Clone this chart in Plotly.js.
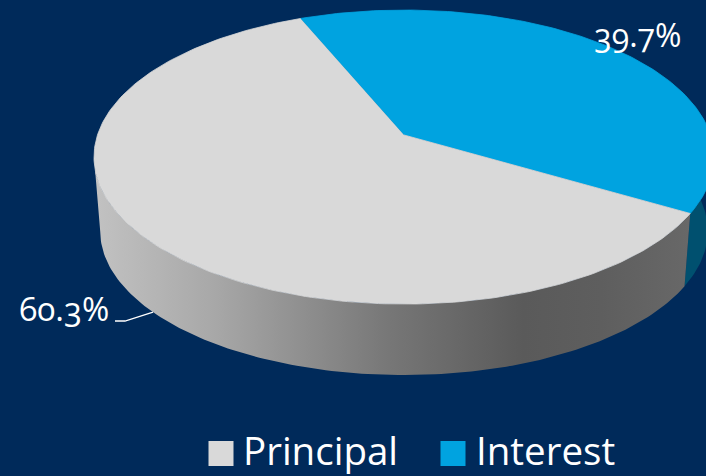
<!DOCTYPE html>
<html>
<head>
<meta charset="utf-8">
<script src="https://cdn.plot.ly/plotly-3.0.1.min.js"></script>
<style>
html, body { margin: 0; padding: 0; background: #002a5a; }
#chart { width: 706px; height: 476px; }
#chart text { font-feature-settings: "onum" 1; font-variant-numeric: oldstyle-nums; }
</style>
</head>
<body>
<div id="chart"></div>
<script>
// Loan payment split
const categories = ["Principal", "Interest"];
const shares = [60.3, 39.7];
const faceColors = ["#d9d9d9", "#00a3e0"];
const shareLabels = ["60.3%", "39.7%"];

// Side wall shading, left to right across the canvas
const wallShadePrincipal = [
  [0, "#c2c2c2"], [0.2, "#a8a8a8"], [0.5, "#767676"], [0.72, "#5a5a5a"], [0.85, "#5e5e5e"], [1, "#686868"]
];

const paper = "#002a5a";
const textFont = "'Open Sans', sans-serif";

// Projection of the tilted disc onto the canvas (pixel units)
const cx = 404, cy = 135, rx = 306.5, ry = 143.7, persp = -0.15;
const depth = 74.4, baseScale = 0.98;
const firstAngle = -22.6; // clockwise from 12 o'clock, start of Interest

function project(deg, r, level) {
  const t = deg * Math.PI / 180;
  const u = r * Math.sin(t), v = -r * Math.cos(t);
  const w = 1 + persp * v;
  const s = level ? baseScale : 1;
  return [cx + s * rx * u / w, cy + (level ? depth : 0) + s * ry * v / w];
}

function arc(a0, a1, level) {
  const pts = [];
  const n = Math.max(2, Math.ceil(Math.abs(a1 - a0)));
  for (let i = 0; i <= n; i++) pts.push(project(a0 + (a1 - a0) * i / n, 1, level));
  return pts;
}

function polygon(pts, extra) {
  return Object.assign({
    x: pts.map(p => p[0]), y: pts.map(p => p[1]),
    mode: "lines", fill: "toself", line: { width: 0 }, hoverinfo: "skip", showlegend: false
  }, extra);
}

// Angular extents of each share; Interest runs clockwise from firstAngle
const interestEnd = firstAngle + shares[1] * 3.6;
const principalEnd = interestEnd + shares[0] * 3.6;
const interestFace = [project(0, 0, 0)].concat(arc(firstAngle, interestEnd, 0));
const principalFace = [project(0, 0, 0)].concat(arc(interestEnd, principalEnd, 0));

// Outer walls run between the silhouette tangents of the projected disc
const tangentRight = Math.acos(persp) * 180 / Math.PI;
const tangentLeft = 360 - tangentRight;
const wallPrincipal = arc(interestEnd, tangentLeft, 0).concat(arc(tangentLeft, interestEnd, 1));
const wallInterest = arc(tangentRight - 40, interestEnd, 0).concat(arc(interestEnd, tangentRight - 40, 1));

const data = [
  polygon(wallInterest, { fillcolor: "#00506f" }),
  polygon(wallPrincipal, {
    fillgradient: { type: "horizontal", colorscale: wallShadePrincipal }
  }),
  polygon(interestFace, { fillcolor: faceColors[1], line: { width: 0.8, color: faceColors[1] } }),
  polygon(principalFace, { fillcolor: faceColors[0], line: { width: 0.8, color: faceColors[0] } })
];

// Leader from the Principal label to the middle of its wall
const mid = project((interestEnd + principalEnd) / 2, 1, 1);
data.push({
  x: [115, 125, mid[0]], y: [321, 321, mid[1]],
  mode: "lines", line: { color: "#ffffff", width: 1.3 }, hoverinfo: "skip", showlegend: false
});

// Key swatches and their names
const keyX = [221, 453], keyY = 453.5, keyTextX = [242, 475], keyTextY = 449.5;
categories.forEach((c, i) => {
  data.push({
    x: [keyX[i]], y: [keyY], mode: "markers",
    marker: { symbol: "square", size: 25, color: faceColors[i] },
    hoverinfo: "skip", showlegend: false, cliponaxis: false
  });
});

const keyNotes = categories.map((c, i) => ({
  text: c, x: keyTextX[i], y: keyTextY, xref: "x", yref: "y", xanchor: "left", showarrow: false,
  borderpad: 0,
  font: { family: textFont, size: 38.5, color: "#ffffff" }
}));

const layout = {
  width: 706, height: 476,
  margin: { l: 0, r: 0, t: 0, b: 0 },
  paper_bgcolor: paper, plot_bgcolor: paper,
  showlegend: false,
  xaxis: { range: [0, 706], visible: false, fixedrange: true },
  yaxis: { range: [476, 0], visible: false, fixedrange: true },
  annotations: keyNotes.concat([
    { text: shareLabels[1], x: 638, y: 34, xref: "x", yref: "y", showarrow: false,
      font: { family: textFont, size: 32, color: "#ffffff" } },
    { text: shareLabels[0], x: 64, y: 308, xref: "x", yref: "y", showarrow: false,
      font: { family: textFont, size: 33, color: "#ffffff" } }
  ])
};

Plotly.newPlot("chart", data, layout, { displayModeBar: false, staticPlot: true });
</script>
</body>
</html>
